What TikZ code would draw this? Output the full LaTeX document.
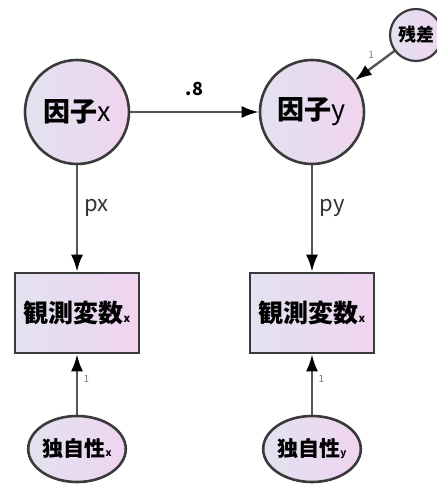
\documentclass[tikz,border=0pt]{standalone}
\usepackage{fontspec}
\setmainfont{Noto Sans CJK JP}
\usetikzlibrary{arrows.meta,shapes.geometric}
\definecolor{fillA}{HTML}{E2E2F0}
\definecolor{fillB}{HTML}{F0D4F0}
\definecolor{edge}{HTML}{3A3A3A}
\definecolor{wire}{HTML}{555555}
\begin{document}
\begin{tikzpicture}[x=1pt,y=-1pt,
  fillshade/.style={draw=edge, line width=2.6pt, shading=axis, shading angle=-45, left color=fillA, right color=fillB},
  latent/.style={fillshade, circle, minimum size=104pt, inner sep=0pt, font=\fontsize{27}{27}\selectfont},
  resid/.style={fillshade, circle, minimum size=52pt, inner sep=0pt, line width=2.2pt, font=\fontsize{18}{18}\selectfont\bfseries},
  observed/.style={fillshade, rectangle, minimum width=124pt, minimum height=80pt, inner sep=0pt, font=\fontsize{25}{25}\selectfont\bfseries},
  uniq/.style={fillshade, ellipse, minimum width=90pt, minimum height=66pt, inner sep=0pt, font=\fontsize{21}{21}\selectfont\bfseries},
  path/.style={draw=wire, line width=2.4pt, -{Latex[length=17pt,width=12pt,black]}},
  lbl/.style={font=\fontsize{22}{22}\selectfont, text=black!80},
  tiny/.style={font=\fontsize{10}{10}\selectfont, text=black!50}]
\useasboundingbox (0,0) rectangle (436,484);
\node[latent] (fx) at (77,112) {{\bfseries 因子}x};
\node[latent] (fy) at (312,112) {{\bfseries 因子}y};
\node[resid] (e) at (416,35) {残差};
\node[observed] (ox) at (77,313) {観測変数{\fontsize{11}{11}\selectfont x}};
\node[observed] (oy) at (312,313) {観測変数{\fontsize{11}{11}\selectfont x}};
\node[uniq] (ux) at (77,449) {独自性{\fontsize{10}{10}\selectfont x}};
\node[uniq] (uy) at (312,449) {独自性{\fontsize{10}{10}\selectfont y}};
\draw[path] (fx) -- node[above=12pt, font=\fontsize{18}{18}\selectfont\bfseries] {.8} (fy);
\draw[path] (fx) -- node[lbl, right=3pt, pos=0.4] {px} (ox);
\draw[path] (fy) -- node[lbl, right=3pt, pos=0.4] {py} (oy);
\draw[path] (e) -- node[tiny, above left=0pt, pos=0.4] {1} (fy);
\draw[path] (ux) -- node[tiny, right=2pt, pos=0.6] {1} (ox);
\draw[path] (uy) -- node[tiny, right=2pt, pos=0.6] {1} (oy);
\end{tikzpicture}
\end{document}
